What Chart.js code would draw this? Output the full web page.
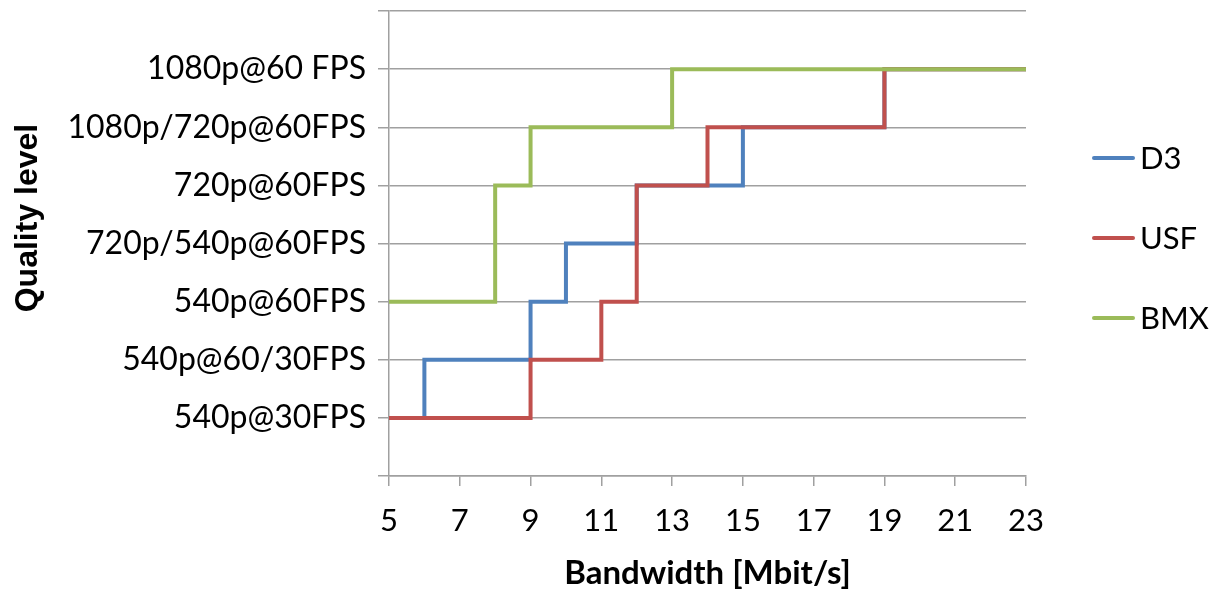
<!DOCTYPE html>
<html>
<head>
<meta charset="utf-8">
<script src="https://cdn.jsdelivr.net/npm/chart.js@4.4.1/dist/chart.umd.min.js"></script>
<style>
  html, body { margin: 0; padding: 0; background: #fff; }
  canvas { display: block; }
</style>
</head>
<body>
<canvas id="qualityChart" width="1214" height="593"></canvas>
<script>
// Quality level labels, index = level on the y axis
const qualityLevels = ['', '540p@30FPS', '540p@60/30FPS', '540p@60FPS', '720p/540p@60FPS',
    '720p@60FPS', '1080p/720p@60FPS', '1080p@60 FPS', ''];

// Step points: bandwidth where the level changes, and the new level
const d3Bandwidth = [5, 6, 9, 10, 12, 15, 19, 23];
const d3Level = [1, 2, 3, 4, 5, 6, 7, 7];

const usfBandwidth = [5, 9, 11, 12, 14, 19, 23];
const usfLevel = [1, 2, 3, 5, 6, 7, 7];

const bmxBandwidth = [5, 8, 9, 13, 23];
const bmxLevel = [3, 5, 6, 7, 7];

const seriesNames = ['D3', 'USF', 'BMX'];
const seriesColors = ['#4F81BD', '#C0504D', '#9BBB59'];

const gridColor = '#a0a0a0';

function toPoints(xs, ys) {
    return xs.map((x, i) => ({ x: x, y: ys[i] }));
}

// Legend on the right, drawn as short lines like the original
const sideLegend = {
    id: 'sideLegend',
    afterDraw(chart) {
        const ctx = chart.ctx;
        const area = chart.chartArea;
        ctx.save();
        ctx.font = '31px Lato';
        ctx.textBaseline = 'middle';
        ctx.fillStyle = '#000';
        chart.data.datasets.forEach((ds, i) => {
            const y = area.top + 147 + i * 80;
            const x = area.right + 68;
            ctx.strokeStyle = ds.borderColor;
            ctx.lineWidth = 4;
            ctx.lineCap = 'round';
            ctx.beginPath();
            ctx.moveTo(x, y);
            ctx.lineTo(x + 39, y);
            ctx.stroke();
            ctx.fillText(ds.label, x + 46, y + 1);
        });
        ctx.restore();
    }
};

// Y axis title sits a bit above the centre of the plot
const yTitle = {
    id: 'yTitle',
    afterDraw(chart) {
        const ctx = chart.ctx;
        ctx.save();
        ctx.translate(28, 218);
        ctx.rotate(-Math.PI / 2);
        ctx.font = 'bold 32px "Liberation Sans"';
        ctx.textAlign = 'center';
        ctx.textBaseline = 'middle';
        ctx.fillStyle = '#000';
        ctx.fillText('Quality level', 0, 0);
        ctx.restore();
    }
};

Chart.defaults.font.family = 'Lato';
Chart.defaults.color = '#000';

const ctx = document.getElementById('qualityChart');
new Chart(ctx, {
    type: 'line',
    data: {
        datasets: [
            { label: seriesNames[0], data: toPoints(d3Bandwidth, d3Level), borderColor: seriesColors[0], order: 3 },
            { label: seriesNames[1], data: toPoints(usfBandwidth, usfLevel), borderColor: seriesColors[1], order: 2 },
            { label: seriesNames[2], data: toPoints(bmxBandwidth, bmxLevel), borderColor: seriesColors[2], order: 1 }
        ].map(ds => Object.assign(ds, {
            backgroundColor: ds.borderColor,
            stepped: 'before',
            borderWidth: 4,
            pointRadius: 0,
            fill: false
        }))
    },
    options: {
        responsive: false,
        animation: false,
        events: [],
        layout: { padding: { top: 11, right: 188, bottom: 0, left: 0 } },
        plugins: {
            legend: { display: false },
            tooltip: { enabled: false }
        },
        scales: {
            x: {
                type: 'linear',
                min: 5,
                max: 23,
                ticks: { stepSize: 2, font: { size: 31 }, padding: 16 },
                grid: { drawOnChartArea: false, drawTicks: true, tickLength: 10, color: gridColor, lineWidth: 1.5 },
                border: { display: true, color: gridColor, width: 1.5 },
                title: {
                    display: true,
                    text: 'Bandwidth [Mbit/s]',
                    font: { size: 33, weight: 'bold' },
                    padding: { top: 0, bottom: 0 }
                },
                afterFit(scale) {
                    scale.height = 117;
                    scale.paddingLeft = 0;
                    scale.paddingRight = 0;
                }
            },
            y: {
                type: 'linear',
                min: 0,
                max: 8,
                ticks: {
                    stepSize: 1,
                    font: { size: 32 },
                    padding: 12,
                    callback: v => qualityLevels[v]
                },
                grid: { drawTicks: true, tickLength: 11, color: gridColor, lineWidth: 1.5 },
                border: { display: true, color: gridColor, width: 1.5 },
                afterFit(scale) {
                    scale.width = 389;
                    scale.paddingTop = 0;
                    scale.paddingBottom = 0;
                }
            }
        }
    },
    plugins: [sideLegend, yTitle]
});
</script>
</body>
</html>
